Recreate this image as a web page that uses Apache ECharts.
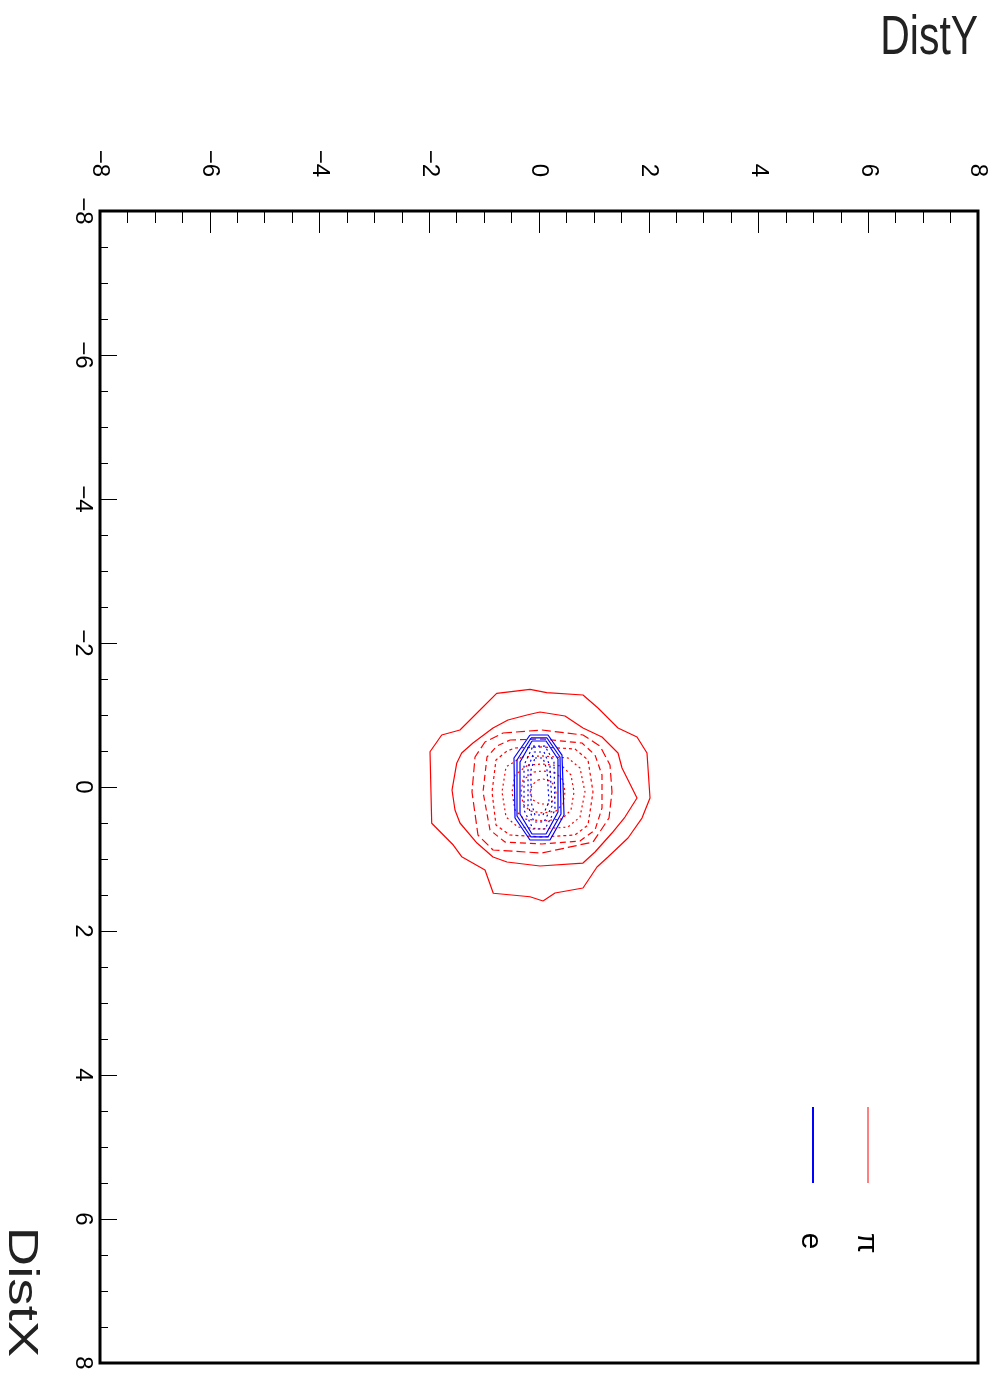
<!DOCTYPE html>
<html><head><meta charset="utf-8">
<script src="https://cdn.jsdelivr.net/npm/echarts@6/dist/echarts.min.js"></script>
<style>html,body{margin:0;padding:0;background:#fff}#c{width:997px;height:1378px}</style>
</head><body><div id="c"></div>
<script>
// Axis ticks (DistY horizontal on top, DistX vertical on left)
const axisTicks = [-8, -6, -4, -2, 0, 2, 4, 6, 8];

// pi contours: points are [DistY, DistX]
const piLevel1 = [[0.073,1.583],[-0.164,1.524],[-0.833,1.476],[-0.984,1.153],[-1.409,0.968],[-1.562,0.806],[-1.955,0.504],[-1.986,-0.490],[-1.773,-0.722],[-1.440,-0.792],[-1.075,-1.069],[-0.771,-1.301],[-0.164,-1.357],[0.140,-1.310],[0.802,-1.278],[1.075,-1.097],[1.440,-0.819],[1.786,-0.694],[1.968,-0.472],[2.023,0.153],[1.877,0.431],[1.622,0.708],[1.257,0.972],[1.057,1.111],[0.802,1.403],[0.292,1.472]];
const piLevel2 = [[0.018,-1.042],[0.474,-0.986],[0.802,-0.819],[1.148,-0.694],[1.440,-0.472],[1.513,-0.264],[1.786,0.153],[1.567,0.417],[1.330,0.639],[1.021,0.903],[0.802,1.056],[0.018,1.097],[-0.583,1.042],[-0.838,0.972],[-1.130,0.778],[-1.440,0.500],[-1.531,0.319],[-1.585,0.042],[-1.500,-0.329],[-1.409,-0.472],[-1.203,-0.611],[-0.838,-0.819],[-0.565,-0.931],[-0.219,-1.000]];
const piLevel3 = [[-0.656,-0.750],[0.055,-0.792],[0.802,-0.722],[1.112,-0.569],[1.294,-0.306],[1.330,0.069],[1.276,0.431],[0.984,0.764],[0.055,0.917],[-0.838,0.875],[-1.112,0.667],[-1.221,0.069],[-1.166,-0.417],[-0.984,-0.625]];
const piLevel4 = [[-0.528,-0.653],[0.055,-0.667],[0.784,-0.611],[1.021,-0.444],[1.148,-0.167],[1.148,0.292],[1.021,0.597],[0.747,0.750],[0.055,0.792],[-0.620,0.764],[-0.893,0.597],[-1.020,0.069],[-0.948,-0.417],[-0.765,-0.569]];
const piLevel5 = [[-0.437,-0.542],[0.055,-0.556],[0.656,-0.528],[0.893,-0.375],[0.984,0.069],[0.893,0.528],[0.656,0.667],[0.055,0.694],[-0.528,0.667],[-0.784,0.528],[-0.856,0.069],[-0.784,-0.375],[-0.583,-0.500]];
const piLevel6 = [[-0.310,-0.417],[0.055,-0.431],[0.528,-0.403],[0.747,-0.264],[0.838,0.069],[0.747,0.417],[0.528,0.556],[0.055,0.583],[-0.383,0.556],[-0.601,0.417],[-0.674,0.069],[-0.601,-0.278]];
const piLevel7 = [[-0.200,-0.306],[0.073,-0.319],[0.419,-0.292],[0.583,-0.167],[0.638,0.069],[0.583,0.319],[0.419,0.444],[0.073,0.472],[-0.273,0.444],[-0.437,0.319],[-0.492,0.069],[-0.437,-0.167]];
const piLevel8 = [[-0.091,-0.208],[0.073,-0.222],[0.310,-0.194],[0.437,-0.097],[0.474,0.069],[0.437,0.236],[0.310,0.333],[0.073,0.361],[-0.164,0.333],[-0.292,0.236],[-0.328,0.069],[-0.292,-0.097]];
const piLevel9 = [[-0.018,-0.097],[0.073,-0.111],[0.200,-0.083],[0.292,-0.014],[0.310,0.083],[0.273,0.181],[0.164,0.236],[0.018,0.236],[-0.109,0.181],[-0.164,0.083],[-0.128,-0.028]];

// e contours
const eLevel1 = [[-0.164,-0.722],[0.164,-0.722],[0.419,-0.444],[0.456,0.389],[0.200,0.736],[-0.164,0.736],[-0.437,0.431],[-0.456,-0.403]];
const eLevel2 = [[-0.146,-0.681],[0.146,-0.681],[0.383,-0.417],[0.401,0.375],[0.164,0.694],[-0.146,0.694],[-0.401,0.403],[-0.401,-0.375]];
const eLevel3 = [[-0.128,-0.639],[0.128,-0.639],[0.346,-0.389],[0.346,0.347],[0.128,0.653],[-0.128,0.653],[-0.346,0.375],[-0.346,-0.347]];
const eLevel4 = [[-0.109,-0.569],[0.109,-0.569],[0.273,-0.347],[0.292,0.319],[0.109,0.583],[-0.109,0.583],[-0.273,0.319],[-0.273,-0.306]];
const eLevel5 = [[-0.091,-0.486],[0.091,-0.486],[0.200,-0.292],[0.237,0.264],[0.091,0.486],[-0.091,0.486],[-0.200,0.264],[-0.200,-0.264]];
const eLevel6 = [[-0.073,-0.403],[0.073,-0.403],[0.146,-0.236],[0.182,0.208],[0.073,0.389],[-0.073,0.389],[-0.146,0.208],[-0.146,-0.236]];

const RED = '#ff0000', BLUE = '#0000ff';
function contour(pts, color, type, width) {
  return { type: 'line', data: pts.concat([pts[0]]), symbol: 'none', silent: true, animation: false,
    color: color, lineStyle: { color: color, width: width, type: type, opacity: 1 } };
}
const fmt = v => (v < 0 ? '\u2212' + Math.abs(v) : String(v));
const LABEL_FONT = 'Liberation Sans, Arial, sans-serif';

const chart = echarts.init(document.getElementById('c'), null, { renderer: 'canvas' });
chart.setOption({
  animation: false,
  backgroundColor: '#fff',
  color: [RED],
  grid: { left: 100, top: 211, right: 19, bottom: 15, show: true, borderColor: '#000', borderWidth: 3, backgroundColor: 'transparent' },
  xAxis: {
    type: 'value', position: 'top', min: axisTicks[0], max: axisTicks[axisTicks.length - 1], interval: 2,
    axisLine: { show: false, onZero: false }, splitLine: { show: false },
    axisTick: { show: true, inside: true, length: 22, lineStyle: { color: '#000', width: 1 } },
    minorTick: { show: true, splitNumber: 4, length: 12, lineStyle: { color: '#000', width: 1 } },
    axisLabel: { show: true, rotate: 90, margin: 34, align: 'right', verticalAlign: 'middle', formatter: fmt,
      fontSize: 24, fontFamily: LABEL_FONT, color: '#000', showMinLabel: true, showMaxLabel: true }
  },
  yAxis: {
    type: 'value', position: 'left', inverse: true, min: axisTicks[0], max: axisTicks[axisTicks.length - 1], interval: 2,
    axisLine: { show: false, onZero: false }, splitLine: { show: false },
    axisTick: { show: true, inside: true, length: 17, lineStyle: { color: '#000', width: 1 } },
    minorTick: { show: true, splitNumber: 4, length: 8, lineStyle: { color: '#000', width: 1 } },
    axisLabel: { show: true, rotate: -90, margin: 17, align: 'center', verticalAlign: 'middle', formatter: fmt,
      fontSize: 24, fontFamily: LABEL_FONT, color: '#000', showMinLabel: true, showMaxLabel: true }
  },
  series: [
    contour(piLevel1, RED, 'solid', 1.2),
    contour(piLevel2, RED, 'solid', 1.2),
    contour(piLevel3, RED, [9, 4], 1.2),
    contour(piLevel4, RED, [6, 4], 1.2),
    contour(piLevel5, RED, [3, 3], 1.2),
    contour(piLevel6, RED, [2, 3], 1.2),
    contour(piLevel7, RED, [2, 3], 1.2),
    contour(piLevel8, RED, [2, 3], 1.2),
    contour(piLevel9, RED, [2, 3], 1.2),
    contour(eLevel1, BLUE, 'solid', 1.2),
    contour(eLevel2, BLUE, 'solid', 1.2),
    contour(eLevel3, BLUE, 'solid', 1.2),
    contour(eLevel4, BLUE, [2, 3], 1.2),
    contour(eLevel5, BLUE, [2, 3], 1.2),
    contour(eLevel6, BLUE, [2, 3], 1.2)
  ],
  graphic: [
    { type: 'text', x: 978, y: 39, scaleX: 0.73, silent: true,
      style: { text: 'DistY', font: '56px Liberation Sans, Arial, sans-serif', fill: '#222', textAlign: 'right', textVerticalAlign: 'middle' } },
    { type: 'text', x: 21, y: 1292, rotation: -Math.PI / 2, scaleX: 1.3, silent: true,
      style: { text: 'DistX', font: '42px Liberation Sans, Arial, sans-serif', fill: '#222', textAlign: 'center', textVerticalAlign: 'middle' } },
    { type: 'line', silent: true, shape: { x1: 868, y1: 1107, x2: 868, y2: 1183 }, style: { stroke: RED, lineWidth: 1 } },
    { type: 'line', silent: true, shape: { x1: 813, y1: 1107, x2: 813, y2: 1183 }, style: { stroke: BLUE, lineWidth: 2 } },
    { type: 'text', x: 866, y: 1243, rotation: -Math.PI / 2, silent: true,
      style: { text: '\u03c0', font: '30px Liberation Sans, Arial, sans-serif', fill: '#000', textAlign: 'center', textVerticalAlign: 'middle' } },
    { type: 'text', x: 810, y: 1241, rotation: -Math.PI / 2, silent: true,
      style: { text: 'e', font: '30px Liberation Sans, Arial, sans-serif', fill: '#000', textAlign: 'center', textVerticalAlign: 'middle' } }
  ]
});
</script>
</body></html>
